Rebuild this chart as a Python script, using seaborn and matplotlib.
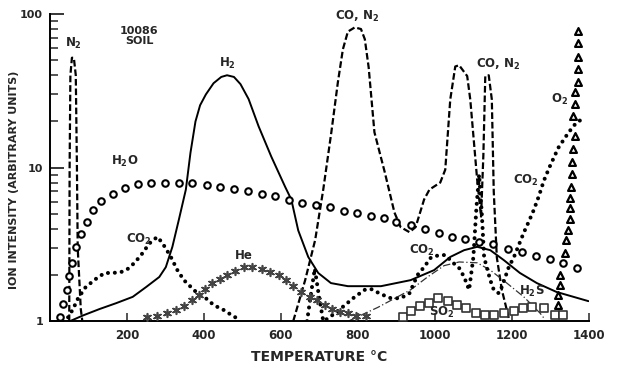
import numpy as np
import pandas as pd
import matplotlib
matplotlib.use("Agg")
import matplotlib.pyplot as plt
import seaborn as sns

# temperature (C) / ion intensity
n2_t = [50, 51, 53, 57, 62, 67, 70, 72, 80, 84]
n2_v = [1.0, 10, 40, 52, 52, 40, 10, 3, 1.2, 1.0]

h2_t = [52, 86, 129, 172, 215, 250, 284, 301, 318, 335, 353, 365, 378, 390, 405, 425, 445,
        460, 478, 495, 516, 542, 575, 611, 627, 645, 671, 697, 730, 774, 860, 937, 998,
        1040, 1076, 1110, 1144, 1179, 1221, 1265, 1316, 1399]
h2_v = [1.0, 1.09, 1.2, 1.31, 1.44, 1.67, 1.94, 2.25, 3.05, 4.6, 7.2, 12.5, 20, 25.5,
        30, 35.5, 39, 40, 39, 35, 28, 18.6, 11.8, 7.5, 6.2, 3.9, 2.62, 2.06, 1.77, 1.69,
        1.69, 1.85, 2.15, 2.62, 2.9, 3.05, 2.9, 2.5, 2.06, 1.77, 1.55, 1.35]

con2_t = [632, 663, 689, 710, 731, 748, 761, 774, 792, 808, 818, 828, 843, 870, 895, 911,
          934, 950, 972, 986, 1014, 1027, 1040, 1053, 1063, 1084, 1092, 1101, 1110, 1120,
          1126, 1131, 1140, 1148, 1153, 1161, 1174, 1192]
con2_v = [1.0, 1.85, 3.38, 7.2, 17, 36, 59, 77, 82, 80, 68.7, 45, 17, 9.3, 5.1, 4.1,
          3.8, 4.1, 6.2, 7.2, 8.0, 9.7, 27.8, 45.6, 46.5, 39.5, 27.8, 15.2, 8.3, 4.8,
          12, 39.5, 40, 27.8, 7.0, 2.6, 1.6, 1.05]

h2s_t = [775, 852, 937, 981, 1024, 1063, 1110, 1144, 1187, 1231, 1273, 1283]
h2s_v = [1.0, 1.23, 1.6, 1.94, 2.3, 2.43, 2.4, 2.15, 1.77, 1.44, 1.13, 1.05]

co2_a_t = [47, 60, 73, 93, 121, 142, 163, 185, 202, 219, 237, 250, 262, 279, 292, 305,
           314, 331, 348, 366, 383, 405, 426, 452, 473, 490]
co2_a_v = [1.06, 1.2, 1.41, 1.67, 1.9, 2.06, 2.06, 2.09, 2.19, 2.39, 2.7, 3.0, 3.28, 3.54,
           3.23, 2.86, 2.62, 2.15, 1.85, 1.67, 1.52, 1.41, 1.27, 1.18, 1.09, 1.03]
co2_b_t = [668, 678, 688, 698, 710, 722, 745, 766, 792, 818, 834, 860, 886, 911, 934, 955,
           972, 989, 1001, 1027, 1045, 1063, 1076, 1089, 1100, 1108, 1115, 1122, 1128,
           1144, 1153, 1166, 1174, 1192, 1205, 1218, 1231, 1244, 1257, 1270, 1283, 1298,
           1321, 1347, 1368, 1380]
co2_b_v = [1.0, 1.5, 2.2, 1.5, 1.0, 1.04, 1.15, 1.27, 1.44, 1.6, 1.62, 1.5, 1.41, 1.41,
           1.52, 2.0, 2.25, 2.58, 2.66, 2.7, 2.43, 2.22, 1.94, 1.6, 2.6, 5.5, 9.0, 5.0,
           2.6, 1.85, 1.6, 1.52, 1.67, 2.25, 2.6, 3.13, 3.77, 4.45, 5.3, 6.5, 8.2, 10.1,
           13.5, 16.9, 19.7, 20.5]

h2o_t = [26, 34, 43, 49, 56, 67, 80, 96, 112, 133, 164, 194, 228, 262, 298, 335, 370,
         407, 443, 477, 514, 550, 585, 621, 655, 692, 727, 763, 797, 833, 867, 900, 937,
         975, 1011, 1045, 1079, 1114, 1151, 1190, 1226, 1262, 1298, 1334, 1370]
h2o_v = [1.06, 1.29, 1.6, 1.97, 2.4, 3.05, 3.7, 4.4, 5.3, 6.1, 6.75, 7.4, 7.85, 8.0, 8.0,
         8.0, 8.0, 7.7, 7.5, 7.3, 7.0, 6.75, 6.5, 6.2, 5.9, 5.7, 5.55, 5.2, 5.1, 4.85, 4.7,
         4.4, 4.25, 4.0, 3.77, 3.55, 3.43, 3.28, 3.18, 2.95, 2.83, 2.66, 2.54, 2.4, 2.22]

he_t = [253, 279, 305, 328, 348, 370, 387, 403, 421, 441, 460, 482, 505, 526, 550, 572,
        594, 614, 632, 653, 676, 695, 714, 733, 753, 774, 795, 820]
he_v = [1.06, 1.08, 1.13, 1.18, 1.25, 1.37, 1.48, 1.62, 1.77, 1.88, 2.0, 2.12, 2.25, 2.25,
        2.19, 2.09, 2.0, 1.85, 1.7, 1.55, 1.44, 1.37, 1.27, 1.2, 1.14, 1.13, 1.08, 1.08]

so2_t = [916, 937, 962, 986, 1009, 1035, 1058, 1082, 1107, 1130, 1153, 1179, 1205, 1228,
         1252, 1283, 1311, 1334]
so2_v = [1.06, 1.16, 1.25, 1.31, 1.41, 1.35, 1.27, 1.22, 1.13, 1.09, 1.09, 1.13, 1.16,
         1.22, 1.23, 1.22, 1.09, 1.09]

o2_t = [1319, 1321, 1324, 1324, 1337, 1342, 1347, 1350, 1350, 1352, 1355, 1357, 1357,
        1360, 1363, 1360, 1365, 1365, 1371, 1371, 1373, 1373, 1373]
o2_v = [1.27, 1.48, 1.72, 2.0, 2.8, 3.4, 3.9, 4.6, 5.5, 6.3, 7.5, 9.1, 10.9, 13.3, 16,
        21.6, 25.8, 31, 36, 44, 52.9, 64.9, 77.6]

sns.set_style("ticks")
plt.rcParams["font.family"] = ["Liberation Sans Narrow", "DejaVu Sans"]
plt.rcParams["font.weight"] = "bold"
plt.rcParams["mathtext.fontset"] = "custom"
plt.rcParams["mathtext.rm"] = "Liberation Sans Narrow:bold"
plt.rcParams["mathtext.default"] = "rm"

fig = plt.figure(figsize=(6.28, 3.73), dpi=100)
ax = fig.add_axes([0.0796, 0.139, 0.858, 0.823])

dashed = (0, (3, 1.3))
dots = (0, (0.01, 1.7))
sns.lineplot(x=n2_t, y=n2_v, ax=ax, color="black", lw=1.6, linestyle=dashed,
             sort=False, estimator=None)
sns.lineplot(x=h2_t, y=h2_v, ax=ax, color="black", lw=1.4, sort=False, estimator=None)
sns.lineplot(x=con2_t, y=con2_v, ax=ax, color="black", lw=1.6, linestyle=dashed,
             sort=False, estimator=None)
sns.lineplot(x=h2s_t, y=h2s_v, ax=ax, color="#333333", lw=0.9, linestyle=(0, (6, 2, 1, 2)),
             sort=False, estimator=None)

co2 = pd.DataFrame({"t": co2_a_t + co2_b_t, "v": co2_a_v + co2_b_v,
                    "seg": [0] * len(co2_a_t) + [1] * len(co2_b_t)})
sns.lineplot(data=co2, x="t", y="v", units="seg", estimator=None, sort=False, ax=ax,
             color="black", lw=2.9, linestyle=dots, dash_capstyle="round")

sns.scatterplot(x=h2o_t, y=h2o_v, ax=ax, marker="o", s=22, facecolor="white",
                edgecolor="black", linewidth=1.5, zorder=3)
sns.scatterplot(x=he_t, y=he_v, ax=ax, marker=(6, 2, 0), s=30, color="#444444",
                linewidth=1.2, zorder=3)
sns.scatterplot(x=so2_t, y=so2_v, ax=ax, marker="s", s=26, facecolor="white",
                edgecolor="#333333", linewidth=1.2, zorder=3)
sns.scatterplot(x=o2_t, y=o2_v, ax=ax, marker="^", s=24, facecolor="white",
                edgecolor="black", linewidth=1.6, zorder=3)

ax.set_yscale("log")
ax.set_xlim(0, 1400)
ax.set_ylim(1, 100)
ax.set_xticks([200, 400, 600, 800, 1000, 1200, 1400])
ax.set_yticks([1, 10, 100])
ax.set_yticklabels(["1", "10", "100"])
ax.tick_params(axis="y", which="major", direction="in", length=10, width=1.3, pad=5,
               labelsize=8)
ax.tick_params(axis="y", which="minor", direction="in", length=6, width=1.1)
ax.tick_params(axis="x", which="major", direction="in", length=6, width=1.1, pad=6,
               labelsize=8.5)
ax.yaxis.set_minor_formatter(matplotlib.ticker.NullFormatter())
for s in ["top", "right"]:
    ax.spines[s].set_visible(False)
for s in ["left", "bottom"]:
    ax.spines[s].set_linewidth(1.4)
    ax.spines[s].set_color("black")

ax.set_xlabel("TEMPERATURE °C", fontsize=10, fontweight="bold")
ax.xaxis.set_label_coords(0.5, -0.095)
ax.set_ylabel("ION INTENSITY (ARBITRARY UNITS)", fontsize=8, fontweight="bold")
ax.yaxis.set_label_coords(-0.058, 0.46)

lab = dict(fontsize=8.5, fontweight="bold", ha="center", va="center")
ax.text(62, 64, "N$_2$", **lab)
ax.text(232, 72, "10086\nSOIL", fontsize=8, fontweight="bold", ha="center", va="center",
        linespacing=1.0)
ax.text(462, 48, "H$_2$", **lab)
ax.text(797, 97, "CO, N$_2$", **lab)
ax.text(1163, 47, "CO, N$_2$", **lab)
ax.text(1325, 28, "O$_2$", **lab)
ax.text(194, 11, "H$_2$O", **lab)
ax.text(232, 3.4, "CO$_2$", **lab)
ax.text(503, 2.66, "He", **lab)
ax.text(965, 2.9, "CO$_2$", **lab)
ax.text(1237, 8.3, "CO$_2$", **lab)
ax.text(1252, 1.55, "H$_2$S", **lab)
ax.text(1017, 1.14, "SO$_2$", **lab)

fig.savefig("out.png", dpi=100, facecolor="white")
